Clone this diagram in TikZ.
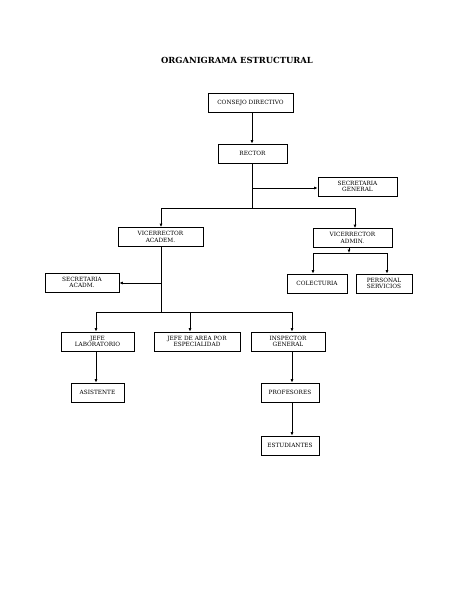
\documentclass[tikz,border=0pt]{standalone}
\usepackage{fontspec}
\setmainfont{DejaVu Serif}
\usetikzlibrary{arrows.meta}
\begin{document}
\begin{tikzpicture}[x=1pt,y=-1pt,
  box/.style={draw=black,line width=0.7pt,minimum height=19pt,inner sep=1pt,align=center,font=\fontsize{5.8}{6.4}\selectfont},
  conn/.style={line width=0.7pt},
  arr/.style={conn,-{Latex[length=3.5pt,width=3pt]}}]
\useasboundingbox[fill=white] (0,0) rectangle (474,613);
\node[font=\bfseries\fontsize{8.4}{10}\selectfont] (title) at (237,60) {ORGANIGRAMA ESTRUCTURAL};
\node[box,minimum width=85pt] (cd) at (250.5,103) {CONSEJO DIRECTIVO};
\node[box,minimum width=69pt] (rec) at (252.5,153.5) {RECTOR};
\node[box,minimum width=79pt] (sg) at (357.5,186.5) {SECRETARIA\\GENERAL};
\node[box,minimum width=85pt] (vac) at (160.5,237) {VICERRECTOR\\ACADEM.};
\node[box,minimum width=79pt] (vad) at (352.5,238) {VICERRECTOR\\ADMIN.};
\node[box,minimum width=74pt] (sa) at (82,282.5) {SECRETARIA\\ACADM.};
\node[box,minimum width=60pt] (col) at (317,283.5) {COLECTURIA};
\node[box,minimum width=56pt] (ps) at (384,283.5) {PERSONAL\\SERVICIOS};
\node[box,minimum width=73pt] (jl) at (97.5,341.5) {JEFE\\LABORATORIO};
\node[box,minimum width=86pt] (ja) at (197,341.5) {JEFE DE AREA POR\\ESPECIALIDAD};
\node[box,minimum width=74pt] (ig) at (288,341.5) {INSPECTOR\\GENERAL};
\node[box,minimum width=53pt] (as) at (97.5,392.5) {ASISTENTE};
\node[box,minimum width=58pt] (pr) at (290,392.5) {PROFESORES};
\node[box,minimum width=58pt] (es) at (290,445.5) {ESTUDIANTES};
% coordinates
\coordinate (r0) at (252,120);
\coordinate (r1) at (252,188);
\coordinate (r2) at (252,208);
\coordinate (h1) at (161,208);
\coordinate (h2) at (355,208);
\coordinate (a1) at (161,283);
\coordinate (a2) at (161,312);
\coordinate (b1) at (96,312);
\coordinate (b2) at (190,312);
\coordinate (b3) at (292,312);
\coordinate (d0) at (349,253);
\coordinate (d1) at (313,253);
\coordinate (d2) at (387,253);
\draw[arr] (cd.south -| r0) -- (rec.north -| r0);
\draw[conn] (rec.south -| r2) -- (r2);
\draw[arr] (r1) -- (sg.west |- r1);
\draw[conn] (h1) -- (h2);
\draw[arr] (h1) -- (vac.north -| h1);
\draw[arr] (h2) -- (vad.north -| h2);
\draw[conn] (vac.south -| a2) -- (a2);
\draw[arr] (a1) -- (sa.east |- a1);
\draw[conn] (b1) -- (b3);
\draw[arr] (b1) -- (jl.north -| b1);
\draw[arr] (b2) -- (ja.north -| b2);
\draw[arr] (b3) -- (ig.north -| b3);
\draw[arr] (vad.south -| d0) -- (d0);
\draw[conn] (d1) -- (d2);
\draw[arr] (d1) -- (col.north -| d1);
\draw[arr] (d2) -- (ps.north -| d2);
\draw[arr] (jl.south -| b1) -- (as.north -| b1);
\draw[arr] (ig.south -| b3) -- (pr.north -| b3);
\draw[arr] (pr.south -| b3) -- (es.north -| b3);
\end{tikzpicture}
\end{document}
